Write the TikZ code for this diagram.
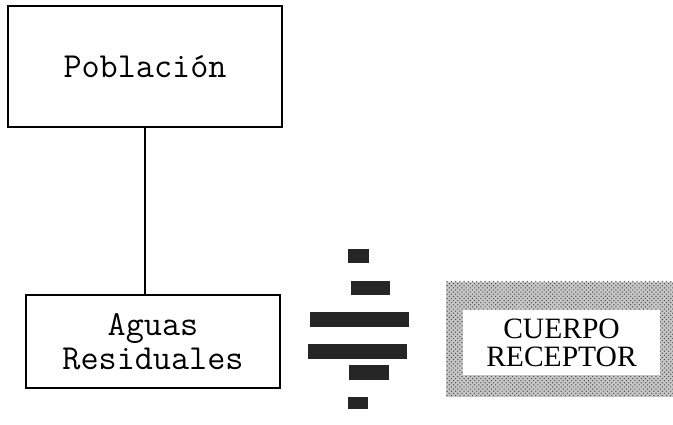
\documentclass[tikz,border=0pt]{standalone}
\usepackage{fontspec}
\usetikzlibrary{patterns}
\newfontfamily\recfont{Liberation Serif}
\begin{document}
\begin{tikzpicture}[x=0.025cm,y=-0.025cm,
  caja/.style={draw=black, line width=0.9pt, align=center, inner sep=0pt,
    font=\ttfamily\fontsize{25}{24}\selectfont},
  barra/.style={fill=black!85}]
\useasboundingbox (0,0) rectangle (673,425);
% cajas de la izquierda
\node[caja, minimum width=274*0.025cm, minimum height=121*0.025cm] (pob) at (145,66.5) {Poblaci\'on};
\node[caja, minimum width=254*0.025cm, minimum height=93*0.025cm] (aguas) at (153,341.5) {Aguas\\Residuales};
\draw[black, line width=0.9pt] (pob.south) -- (pob.south |- aguas.north);
% barras entre las aguas y el cuerpo receptor
\fill[barra] (348,249) rectangle (369,263);
\fill[barra] (351,281) rectangle (390,295);
\fill[barra] (310,312) rectangle (409,327);
\fill[barra] (308,344) rectangle (407,359);
\fill[barra] (349,365) rectangle (389,380);
\fill[barra] (348,397) rectangle (368,409);
% cuerpo receptor con marco punteado
\node[fill=gray!45, postaction={pattern=crosshatch dots, pattern color=black!70},
  minimum width=227*0.025cm, minimum height=115*0.025cm] (marco) at (559.5,339.5) {};
\node[fill=white, minimum width=197*0.025cm, minimum height=65*0.025cm, align=center, inner sep=0pt,
  font=\recfont\fontsize{21}{20}\selectfont] (receptor) at (561.5,342.5) {CUERPO\\RECEPTOR};
\end{tikzpicture}
\end{document}
